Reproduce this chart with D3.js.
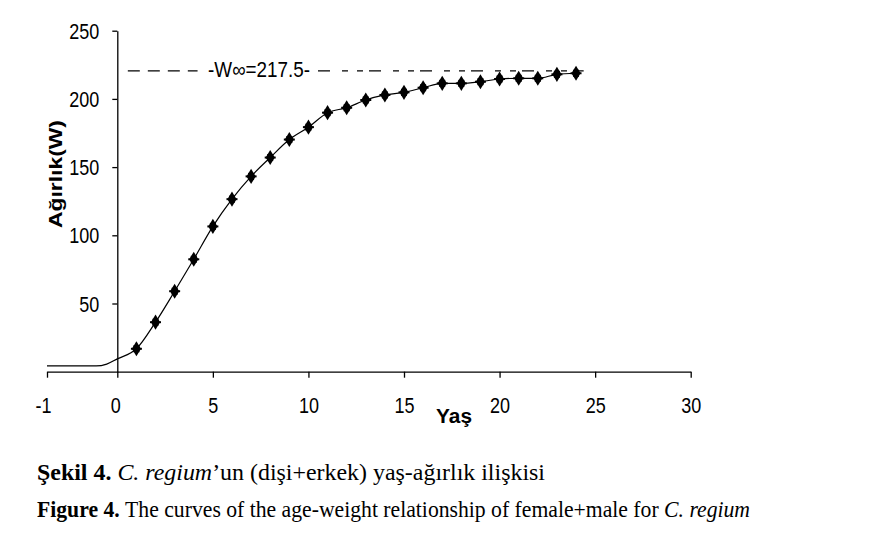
<!DOCTYPE html>
<html><head><meta charset="utf-8">
<script src="https://cdn.jsdelivr.net/npm/d3@7"></script>
<style>body{margin:0;background:#fff}svg{display:block}</style>
</head><body><svg id="c" width="878" height="536"></svg>
<script>
const ages = [1,2,3,4,5,6,7,8,9,10,11,12,13,14,15,16,17,18,19,20,21,22,23,24];
const weights = [16.8,36.3,59.0,82.4,106.5,126.5,143.2,157.0,170.2,179.3,189.9,193.5,199.2,202.9,204.8,208.2,211.4,211.4,212.6,214.6,215.1,215.1,218.0,218.8];
const leadAges = [-1,-0.3,-0.15,0];
const leadWeights = [4.2,4.2,5.6,9.4];
const xTicks = [-1,0,5,10,15,20,25,30];
const yTicks = [50,100,150,200,250];
const asymptoteValue = 220.5;
const asymptoteLabel = "W\u221E=217.5";
const xTitle = "Ya\u015F";
const yTitle = "A\u011F\u0131rl\u0131k(W)";

const svg = d3.select("#c");
const x = d3.scaleLinear().domain([-1,0,30]).range([47,117.3,690.7]);
const y = d3.scaleLinear().domain([0,250]).range([371.7,30.7]);
const FONT = "'Liberation Sans', Arial, sans-serif";
const SERIF = "'Liberation Serif', 'Times New Roman', serif";

// axes
const gy = svg.append("g").attr("transform",`translate(${x(0)},0)`)
  .call(d3.axisLeft(y).tickValues(yTicks).tickFormat(d=>String(d)).tickSize(5).tickSizeOuter(0));
const gx = svg.append("g").attr("transform",`translate(0,${y(0)})`)
  .call(d3.axisBottom(x).tickValues(xTicks).tickFormat(d=>String(d)).tickSize(6).tickSizeOuter(0));
[gx,gy].forEach(g=>{
  g.select(".domain").attr("stroke","#000").attr("stroke-width",1.3);
  g.selectAll(".tick line").attr("stroke","#000").attr("stroke-width",1.3);
  g.selectAll("text").attr("font-family",FONT).attr("font-size",18).attr("fill","#000");
});
gy.selectAll(".tick text").attr("x",0).attr("dy",0).attr("text-anchor","end")
  .attr("transform","translate(-18,7.5) scale(1,1.18)");
gx.selectAll(".tick text").attr("y",0).attr("dy",0)
  .attr("transform",d=>`translate(${d===-1?-4:(d===0?-2:0)},41.3) scale(1,1.18)`);

// asymptote dashed line with label
const ay = y(asymptoteValue);
svg.append("line").attr("x1",x(0.55)).attr("x2",x(4.2)).attr("y1",ay).attr("y2",ay)
  .attr("stroke","#000").attr("stroke-width",1.2).attr("stroke-dasharray","12,8");
svg.append("line").attr("x1",x(10.5)).attr("x2",x(24.4)).attr("y1",ay).attr("y2",ay)
  .attr("stroke","#000").attr("stroke-width",1.2).attr("stroke-dasharray","12,12,6,9,6,6");
svg.append("text").attr("transform",`translate(${x(4.75)},${ay+6.5}) scale(1,1.18)`)
  .attr("font-family",FONT).attr("font-size",18)
  .attr("textLength",102).attr("lengthAdjust","spacingAndGlyphs")
  .text("-"+asymptoteLabel+"-");

// curve
const pts = leadAges.map((a,i)=>[a,leadWeights[i]]).concat(ages.map((a,i)=>[a,weights[i]]));
svg.append("path").datum(pts)
  .attr("d",d3.line().x(d=>x(d[0])).y(d=>y(d[1])).curve(d3.curveMonotoneX))
  .attr("fill","none").attr("stroke","#000").attr("stroke-width",1.2);

// markers
const mk = svg.append("g").selectAll("g").data(ages.map((a,i)=>[a,weights[i]])).join("g")
  .attr("transform",d=>`translate(${x(d[0])},${y(d[1])})`);
mk.append("path").attr("d",d3.symbol(d3.symbolDiamond,60)).attr("transform","scale(1.1,1.05)").attr("fill","#000");
mk.append("rect").attr("x",-3).attr("y",-3.5).attr("width",6).attr("height",7).attr("fill","#000");
mk.append("line").attr("x1",-5.5).attr("x2",5.5).attr("y1",0).attr("y2",0).attr("stroke","#000").attr("stroke-width",2);
mk.append("line").attr("x1",0).attr("x2",0).attr("y1",-4.5).attr("y2",4.5).attr("stroke","#000").attr("stroke-width",2);

// axis titles
svg.append("text").attr("transform","translate(454,423) scale(1,1.1)")
  .attr("text-anchor","middle").attr("font-family",FONT).attr("font-weight","bold").attr("font-size",19)
  .attr("textLength",36).attr("lengthAdjust","spacingAndGlyphs").text(xTitle);
svg.append("text").attr("transform","translate(62,174) rotate(-90)")
  .attr("text-anchor","middle").attr("font-family",FONT).attr("font-weight","bold").attr("font-size",18)
  .attr("textLength",108).attr("lengthAdjust","spacingAndGlyphs").text(yTitle);

// captions
const c1 = svg.append("text").attr("transform","translate(37,480) scale(1,1.12)")
  .attr("font-family",SERIF).attr("font-size",20).attr("fill","#000")
  .attr("textLength",508).attr("lengthAdjust","spacingAndGlyphs");
c1.append("tspan").attr("font-weight","bold").text("\u015Eekil 4. ");
c1.append("tspan").attr("font-style","italic").text("C. regium");
c1.append("tspan").text("\u2019un (di\u015Fi+erkek) ya\u015F-a\u011F\u0131rl\u0131k ili\u015Fkisi");
const c2 = svg.append("text").attr("transform","translate(37,516.7) scale(1,1.12)")
  .attr("font-family",SERIF).attr("font-size",20).attr("fill","#000")
  .attr("textLength",713).attr("lengthAdjust","spacingAndGlyphs");
c2.append("tspan").attr("font-weight","bold").text("Figure 4. ");
c2.append("tspan").text("The curves of the age-weight relationship of female+male for ");
c2.append("tspan").attr("font-style","italic").text("C. regium");
</script></body></html>
